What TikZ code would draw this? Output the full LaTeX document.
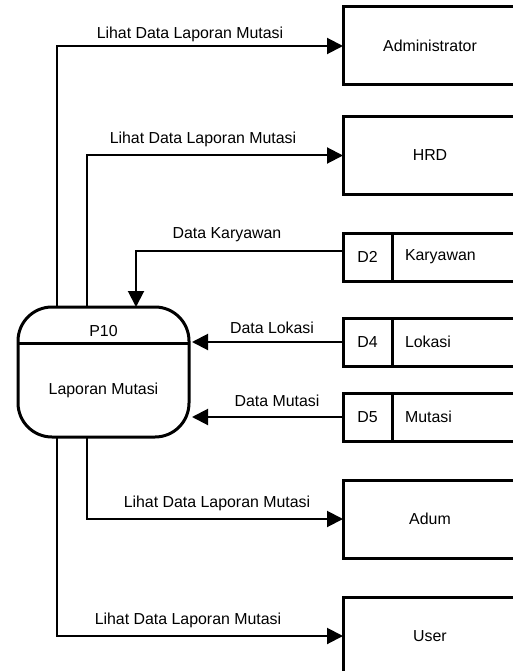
\documentclass[tikz,border=0pt]{standalone}
\usepackage{fontspec}
\setmainfont{Liberation Sans}
\usetikzlibrary{arrows.meta}
\begin{document}
\begin{tikzpicture}[x=1pt,y=1pt,
  every node/.style={font=\fontsize{15.9}{18}\selectfont, outer sep=0pt},
  entity/.style={draw, line width=3pt, minimum width=174pt, minimum height=78pt,
    inner sep=0pt, anchor=west},
  storeid/.style={draw, line width=3pt, minimum width=49pt, minimum height=48pt,
    inner sep=0pt, anchor=west},
  storename/.style={draw, line width=3pt, text width=100pt, inner xsep=13pt,
    minimum height=48pt, align=left, anchor=west},
  proc/.style={draw, line width=3pt, minimum width=171pt, minimum height=130pt,
    rounded corners=34pt, inner sep=0pt},
  flow/.style={line width=2pt, -{Triangle[length=16pt,width=16pt]}},
  lbl/.style={inner sep=0pt}
]
\useasboundingbox (0,0) rectangle (513,-671);
\clip (0,0) rectangle (513,-671);

% external entities
\node[entity] (admin) at (343,-46)  {Administrator};
\node[entity] (hrd)   at (343,-155.5) {HRD};
\node[entity] (adum)  at (343,-519) {Adum};
\node[entity] (user)  at (343,-636) {User};

% data stores
\node[storeid] (d2id) at (343,-257) {D2};
\node[storename] (d2) at (d2id.east) {Karyawan};
\node[storeid] (d4id) at (343,-342) {D4};
\node[storename] (d4) at (d4id.east) {Lokasi};
\node[storeid] (d5id) at (343,-417) {D5};
\node[storename] (d5) at (d5id.east) {Mutasi};

% process
\node[proc] (p10) at (103.5,-372) {};
\draw[line width=3pt] ([yshift=-36pt]p10.north west) -- ([yshift=-36pt]p10.north east);
\node (p10id) at ([yshift=-24pt]p10.north) {P10};
\node (p10name) at ([yshift=-18pt]p10.center) {Laporan Mutasi};

% data flows
\draw[flow] ([xshift=-47pt]p10.north) |- (admin.west);
\draw[flow] ([xshift=-16.5pt]p10.north) |- (hrd.west);
\draw[flow] ([yshift=6pt]d2id.west) -| ([xshift=32.5pt]p10.north);
\draw[flow, shorten >=3pt] (d4id.west) -- (d4id.west -| p10.east);
\draw[flow, shorten >=3pt] (d5id.west) -- (d5id.west -| p10.east);
\draw[flow] ([xshift=-16.5pt]p10.south) |- (adum.west);
\draw[flow] ([xshift=-47pt]p10.south) |- (user.west);

% flow labels
\node[lbl] (f1) at (190,-34)  {Lihat Data Laporan Mutasi};
\node[lbl] (f2) at (203,-139) {Lihat Data Laporan Mutasi};
\node[lbl] (f3) at (227,-235) {Data Karyawan};
\node[lbl] (f4) at (272,-328) {Data Lokasi};
\node[lbl] (f5) at (277,-401) {Data Mutasi};
\node[lbl] (f6) at (217,-503) {Lihat Data Laporan Mutasi};
\node[lbl] (f7) at (188,-620) {Lihat Data Laporan Mutasi};
\end{tikzpicture}
\end{document}
